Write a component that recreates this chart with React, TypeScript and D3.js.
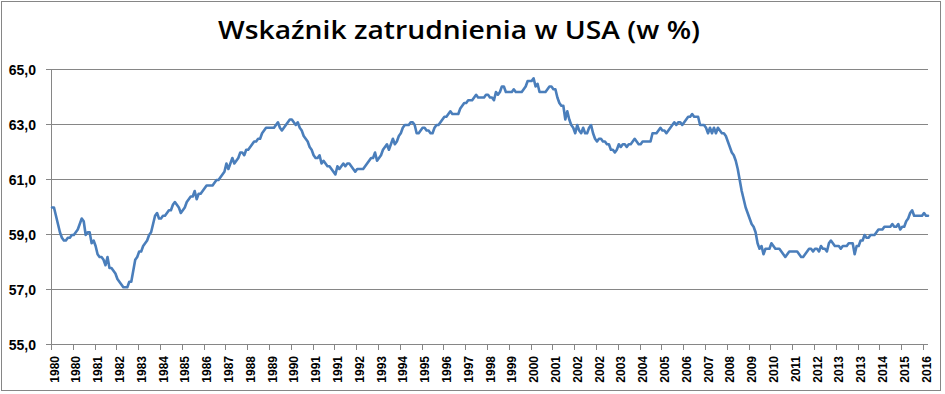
import React from "react";
import * as d3 from "d3";

const TITLE = "Wskaźnik zatrudnienia w USA (w %)";

// Monthly employment-population ratio, Jan 1980 – Nov 2016
const v1980 = [60.0, 60.0, 59.7, 59.4, 59.1, 58.9, 58.8, 58.8, 58.9, 58.9, 59.0, 59.0];
const v1981 = [59.1, 59.2, 59.4, 59.6, 59.5, 59.0, 59.1, 59.1, 58.7, 58.8, 58.6, 58.3];
const v1982 = [58.2, 58.2, 58.1, 57.9, 58.2, 57.8, 57.8, 57.7, 57.6, 57.4, 57.3, 57.2];
const v1983 = [57.1, 57.1, 57.1, 57.3, 57.3, 57.7, 58.1, 58.2, 58.4, 58.4, 58.6, 58.7];
const v1984 = [58.8, 59.0, 59.1, 59.4, 59.7, 59.8, 59.6, 59.6, 59.7, 59.7, 59.8, 59.9];
const v1985 = [59.9, 60.1, 60.2, 60.1, 60.0, 59.8, 59.9, 60.0, 60.2, 60.3, 60.4, 60.4];
const v1986 = [60.6, 60.3, 60.5, 60.5, 60.6, 60.7, 60.8, 60.8, 60.8, 60.8, 60.9, 61.0];
const v1987 = [61.0, 61.1, 61.2, 61.3, 61.6, 61.4, 61.6, 61.8, 61.6, 61.7, 61.8, 62.0];
const v1988 = [62.0, 61.9, 62.1, 62.1, 62.2, 62.3, 62.4, 62.4, 62.5, 62.5, 62.7, 62.8];
const v1989 = [62.9, 62.9, 62.9, 62.9, 62.9, 63.0, 63.1, 62.9, 62.8, 62.9, 63.0, 63.1];
const v1990 = [63.2, 63.2, 63.1, 63.0, 63.1, 62.9, 62.8, 62.6, 62.5, 62.4, 62.2, 62.1];
const v1991 = [61.9, 61.8, 61.8, 61.9, 61.6, 61.7, 61.6, 61.5, 61.5, 61.4, 61.3, 61.2];
const v1992 = [61.5, 61.4, 61.5, 61.6, 61.5, 61.6, 61.6, 61.5, 61.4, 61.3, 61.4, 61.4];
const v1993 = [61.4, 61.4, 61.5, 61.6, 61.7, 61.8, 61.8, 62.0, 61.7, 61.8, 61.9, 62.1];
const v1994 = [62.2, 62.3, 62.1, 62.3, 62.5, 62.3, 62.4, 62.6, 62.7, 62.9, 63.0, 63.0];
const v1995 = [63.0, 63.1, 63.1, 63.0, 62.7, 62.7, 62.8, 62.9, 62.9, 62.8, 62.8, 62.7];
const v1996 = [62.7, 62.9, 63.0, 63.0, 63.1, 63.2, 63.3, 63.3, 63.4, 63.5, 63.4, 63.4];
const v1997 = [63.4, 63.4, 63.6, 63.7, 63.8, 63.8, 63.9, 63.9, 63.9, 64.0, 64.1, 64.0];
const v1998 = [64.0, 64.0, 64.0, 64.1, 64.1, 64.0, 64.0, 63.9, 64.2, 64.1, 64.2, 64.4];
const v1999 = [64.4, 64.2, 64.2, 64.2, 64.2, 64.3, 64.2, 64.2, 64.2, 64.2, 64.3, 64.4];
const v2000 = [64.6, 64.6, 64.6, 64.7, 64.4, 64.5, 64.2, 64.2, 64.2, 64.2, 64.3, 64.4];
const v2001 = [64.4, 64.3, 64.3, 64.0, 63.8, 63.7, 63.7, 63.2, 63.5, 63.2, 63.0, 62.9];
const v2002 = [62.7, 63.0, 62.8, 62.7, 62.9, 62.7, 62.7, 62.9, 63.0, 62.7, 62.5, 62.4];
const v2003 = [62.5, 62.5, 62.4, 62.4, 62.3, 62.3, 62.1, 62.1, 62.0, 62.1, 62.3, 62.2];
const v2004 = [62.3, 62.3, 62.2, 62.3, 62.3, 62.4, 62.5, 62.4, 62.3, 62.3, 62.4, 62.4];
const v2005 = [62.4, 62.4, 62.4, 62.7, 62.7, 62.7, 62.8, 62.9, 62.8, 62.8, 62.7, 62.8];
const v2006 = [62.9, 63.0, 63.1, 63.0, 63.1, 63.1, 63.0, 63.1, 63.2, 63.3, 63.3, 63.4];
const v2007 = [63.3, 63.3, 63.3, 63.0, 63.0, 63.0, 62.9, 62.7, 62.9, 62.7, 62.9, 62.7];
const v2008 = [62.9, 62.8, 62.7, 62.7, 62.6, 62.4, 62.2, 62.0, 61.9, 61.7, 61.4, 61.0];
const v2009 = [60.6, 60.3, 60.0, 59.8, 59.6, 59.4, 59.3, 59.1, 58.7, 58.5, 58.6, 58.3];
const v2010 = [58.5, 58.5, 58.5, 58.7, 58.6, 58.5, 58.5, 58.5, 58.4, 58.3, 58.2, 58.3];
const v2011 = [58.4, 58.4, 58.4, 58.4, 58.4, 58.3, 58.2, 58.2, 58.3, 58.4, 58.5, 58.5];
const v2012 = [58.4, 58.5, 58.5, 58.4, 58.6, 58.5, 58.5, 58.4, 58.7, 58.8, 58.7, 58.6];
const v2013 = [58.6, 58.6, 58.5, 58.6, 58.6, 58.6, 58.7, 58.7, 58.7, 58.3, 58.6, 58.6];
const v2014 = [58.8, 58.8, 59.0, 58.9, 58.9, 59.0, 59.0, 59.0, 59.1, 59.2, 59.2, 59.2];
const v2015 = [59.3, 59.3, 59.3, 59.3, 59.4, 59.3, 59.3, 59.4, 59.2, 59.3, 59.3, 59.5];
const v2016 = [59.6, 59.8, 59.9, 59.7, 59.7, 59.7, 59.7, 59.7, 59.8, 59.7, 59.7];

const values: number[] = [
  ...v1980, ...v1981, ...v1982, ...v1983, ...v1984, ...v1985, ...v1986, ...v1987,
  ...v1988, ...v1989, ...v1990, ...v1991, ...v1992, ...v1993, ...v1994, ...v1995,
  ...v1996, ...v1997, ...v1998, ...v1999, ...v2000, ...v2001, ...v2002, ...v2003,
  ...v2004, ...v2005, ...v2006, ...v2007, ...v2008, ...v2009, ...v2010, ...v2011,
  ...v2012, ...v2013, ...v2014, ...v2015, ...v2016,
];

// category axis labels, shown every 11th month
const xTickLabels = [
  "1980", "1980", "1981", "1982", "1983", "1984", "1985", "1986", "1987", "1988",
  "1989", "1990", "1991", "1991", "1992", "1993", "1994", "1995", "1996", "1997",
  "1998", "1999", "2000", "2001", "2002", "2002", "2003", "2004", "2005", "2006",
  "2007", "2008", "2009", "2010", "2011", "2012", "2013", "2013", "2014", "2015", "2016",
];
const labelInterval = 11;
const yTicks = [55, 57, 59, 61, 63, 65];

const W = 945;
const H = 394;
const PL = 52;
const PR = 928;
const PT = 70;
const PB = 345;
const GRID = "#868686";
const LINE = "#4a7ebb";

export default function App() {
  const x = d3.scaleLinear().domain([0, values.length - 1]).range([PL, PR]);
  const y = d3.scaleLinear().domain([55, 65]).range([PB, PT]);
  const line = d3
    .line<number>()
    .x((_, i) => x(i))
    .y((d) => y(d));
  const crisp = (v: number) => Math.round(v) + 0.5;

  return (
    <svg
      width={W}
      height={H}
      style={{ position: "absolute", left: 0, top: 0, background: "#fff" }}
    >
      <rect x={0} y={0} width={W} height={H} fill="#fff" />
      <rect x={1.5} y={1.5} width={939} height={389} fill="none" stroke={GRID} strokeWidth={1} />
      <text
        x={459}
        y={39}
        textAnchor="middle"
        fontFamily="'Open Sans', sans-serif"
        fontWeight={600}
        fontSize={25}
        textLength={482}
        lengthAdjust="spacingAndGlyphs"
        fill="#000"
      >
        {TITLE}
      </text>
      {yTicks.map((t) => (
        <g key={t}>
          <line x1={PL - 6} x2={PR} y1={crisp(y(t)) - 1} y2={crisp(y(t)) - 1} stroke={GRID} strokeWidth={1} />
          <text
            x={36}
            y={y(t) + 5}
            textAnchor="end"
            fontFamily="'Liberation Sans', Arial, sans-serif"
            fontWeight="bold"
            fontSize={14}
            fill="#000"
          >
            {t.toFixed(1).replace(".", ",")}
          </text>
        </g>
      ))}
      <line x1={crisp(PL) - 1} x2={crisp(PL) - 1} y1={PT} y2={PB} stroke={GRID} strokeWidth={1} />
      {xTickLabels.map((lab, i) => {
        const xi = x(i * labelInterval);
        return (
          <g key={i}>
            <line x1={crisp(xi) - 1} x2={crisp(xi) - 1} y1={PB} y2={PB + 5} stroke={GRID} strokeWidth={1} />
            <text
              transform={`translate(${xi + 6.5},356) rotate(-90)`}
              textAnchor="end"
              fontFamily="'Liberation Sans', Arial, sans-serif"
              fontWeight="bold"
              fontSize={12}
              fill="#000"
            >
              {lab}
            </text>
          </g>
        );
      })}
      <path
        d={line(values) || ""}
        fill="none"
        stroke={LINE}
        strokeWidth={2.6}
        strokeLinejoin="round"
        strokeLinecap="round"
      />
    </svg>
  );
}
